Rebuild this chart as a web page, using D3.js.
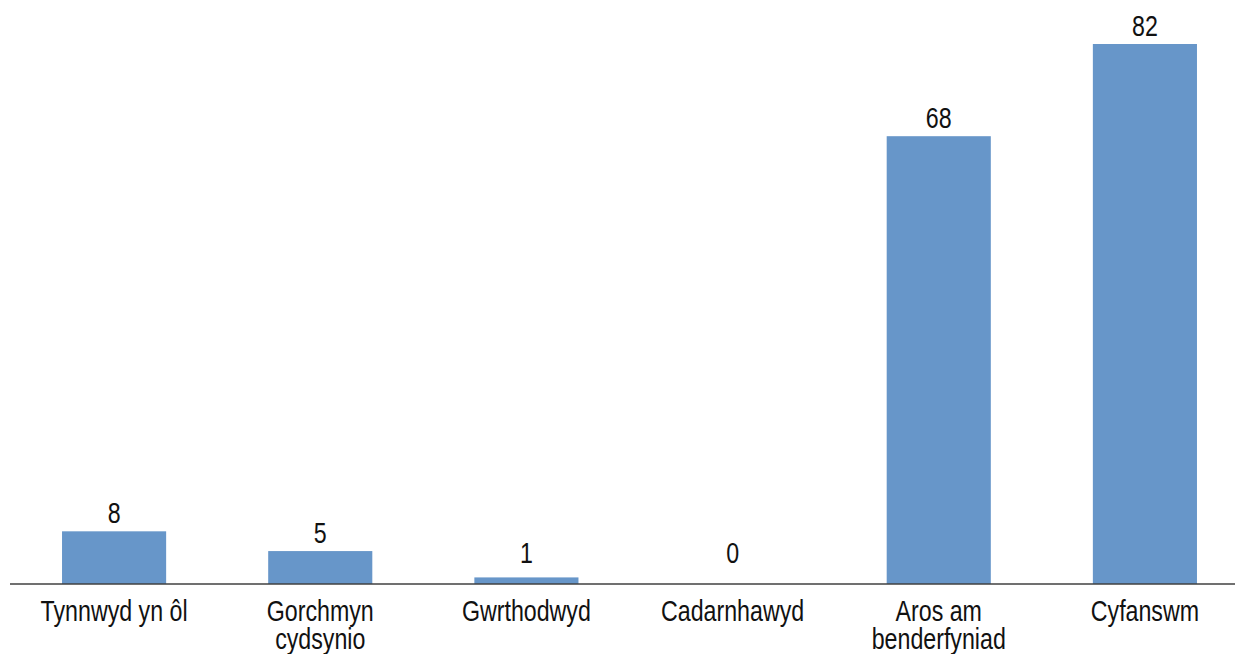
<!DOCTYPE html>
<html>
<head>
<meta charset="utf-8">
<script src="https://cdn.jsdelivr.net/npm/d3@7"></script>
<style>
  html, body { margin: 0; padding: 0; background: #fff; }
  svg { display: block; }
  text { font-family: "Liberation Sans", Arial, sans-serif; fill: #111; }
</style>
</head>
<body>
<svg id="chart" width="1235" height="654"></svg>
<script>
const categories = [["Tynnwyd yn ôl"], ["Gorchmyn", "cydsynio"], ["Gwrthodwyd"], ["Cadarnhawyd"], ["Aros am", "benderfyniad"], ["Cyfanswm"]];
const values = [8, 5, 1, 0, 68, 82];

const svg = d3.select("#chart");
const baseY = 584;
const squeeze = 0.8;
const keys = categories.map((c, i) => i);

const x = d3.scaleBand().domain(keys).range([11, 1248]).paddingInner(0.495).paddingOuter(0.2475);
const y = d3.scaleLinear().domain([0, 82]).range([baseY, 44]);
const cx = i => x(i) + x.bandwidth() / 2;

svg.append("g").selectAll("rect").data(values).join("rect")
  .attr("x", (d, i) => x(i))
  .attr("y", d => y(d))
  .attr("width", x.bandwidth())
  .attr("height", d => baseY - y(d))
  .attr("fill", "#6796c9");

// axis
const axis = d3.axisBottom(x).tickSize(0).tickFormat("");
const ag = svg.append("g").attr("transform", `translate(0,${baseY})`).call(axis);
ag.select(".domain").attr("d", "M10,0H1235").attr("stroke", "#404040").attr("stroke-width", 1.3);

// category labels
const lab = svg.append("g").selectAll("text").data(categories).join("text")
  .attr("text-anchor", "middle")
  .attr("font-size", 29)
  .attr("transform", (d, i) => `translate(${cx(i)},621) scale(${squeeze},1)`);
lab.selectAll("tspan").data(d => d).join("tspan")
  .attr("x", 0)
  .attr("dy", (d, j) => j === 0 ? 0 : 28)
  .text(d => d);

// value labels
svg.append("g").selectAll("text").data(values).join("text")
  .attr("text-anchor", "middle")
  .attr("font-size", 29)
  .attr("transform", (d, i) => `translate(${cx(i)},${Math.min(y(d), baseY - 13) - 8}) scale(${squeeze},1)`)
  .text(d => d);
</script>
</body>
</html>
